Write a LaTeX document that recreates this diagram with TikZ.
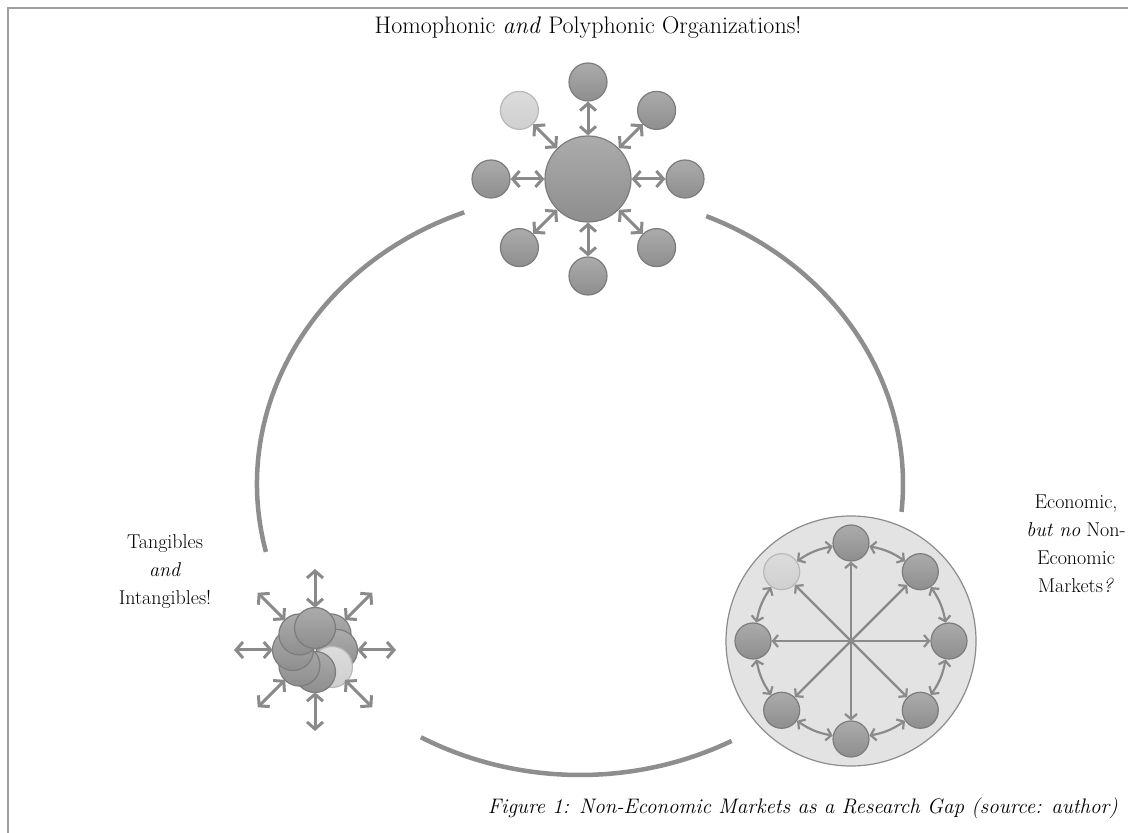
\documentclass[tikz,border=0pt]{standalone}
\usetikzlibrary{arrows.meta,calc}
\definecolor{ballhi}{HTML}{ABABAB}
\definecolor{balllo}{HTML}{8E8E8E}
\definecolor{balledge}{HTML}{7C7C7C}
\definecolor{lighthi}{HTML}{DCDCDC}
\definecolor{lightlo}{HTML}{CFCFCF}
\definecolor{lightedge}{HTML}{B8B8B8}
\definecolor{arrowgray}{HTML}{8A8A8A}
\definecolor{arcgray}{HTML}{8E8E8E}
\definecolor{discfill}{HTML}{E3E3E3}
\definecolor{discedge}{HTML}{8C8C8C}
\definecolor{framegray}{HTML}{A0A0A0}
\tikzset{
  ball/.style={circle,draw=balledge,line width=1.2pt,top color=ballhi,bottom color=balllo,inner sep=0pt,minimum size=#1},
  lightball/.style={circle,draw=lightedge,line width=1.2pt,top color=lighthi,bottom color=lightlo,inner sep=0pt,minimum size=#1},
  link/.style={draw=arrowgray,line width=3pt,{Straight Barb[length=7pt,width=16pt]}-{Straight Barb[length=7pt,width=16pt]}},
  thinlink/.style={draw=arrowgray,line width=2.2pt,{Straight Barb[length=5pt,width=12pt]}-{Straight Barb[length=5pt,width=12pt]}},
  spoke/.style={draw=arrowgray,line width=2.2pt,-{Straight Barb[length=5pt,width=12pt]}},
  arcline/.style={draw=arcgray,line width=4.5pt},
  txt/.style={font=\fontsize{20}{28}\selectfont,inner sep=0pt,align=center}
}
\begin{document}
\begin{tikzpicture}[x=1pt,y=1pt]
\useasboundingbox (0,0) rectangle (1128,833);
\fill[white] (0,0) rectangle (1128,833);
% frame
\draw[framegray,line width=2.5pt] (8,0) -- (8,825) -- (1128,825);

% big ellipse arcs
\coordinate (ec) at (580,349);
\draw[arcline] ($(ec)+(111:323pt and 291pt)$) arc[start angle=111,end angle=193.5,x radius=323pt,y radius=291pt];
\draw[arcline] ($(ec)+(240.5:323pt and 291pt)$) arc[start angle=240.5,end angle=298,x radius=323pt,y radius=291pt];
\draw[arcline] ($(ec)+(67:323pt and 291pt)$) arc[start angle=67,end angle=-5.5,x radius=323pt,y radius=291pt];

% top cluster
\node[ball=86pt] (hub) at (588,654) {};
\foreach \a/\n in {90/n,45/ne,0/e,-45/se,-90/s,-135/sw,180/w}
  \node[ball=38pt] (t\n) at ($(hub.center)+(\a:97pt)$) {};
\node[lightball=38pt] (tnw) at ($(hub.center)+(135:97pt)$) {};
\foreach \n in {n,ne,e,se,s,sw,w,nw}
  \draw[link] (hub) -- (t\n);

% right cluster
\node[circle,draw=discedge,line width=1.2pt,fill=discfill,minimum size=250pt,inner sep=0pt] (rdisc) at (851,192) {};
\coordinate (rc) at (851,192);
\foreach \a/\n in {90/n,45/ne,0/e,-45/se,-90/s,-135/sw,180/w}
  \node[ball=36pt] (r\n) at ($(rc)+(\a:98pt)$) {};
\node[lightball=36pt] (rnw) at ($(rc)+(135:98pt)$) {};
\foreach \n in {n,ne,e,se,s,sw,w,nw}
  \draw[spoke] (rc) -- (r\n);
\foreach \p/\q in {n/ne,ne/e,e/se,se/s,s/sw,sw/w,w/nw,nw/n}
  \draw[thinlink] (r\p) to[bend left=12] (r\q);

% left cluster
\coordinate (lc) at (315,183);
\foreach \a in {45,0}
  \node[ball=41pt] (lb\a) at ($(lc)+(\a:22pt)$) {};
\node[lightball=41pt] (lb315) at ($(lc)+(-45:24pt)$) {};
\foreach \a in {270,225,180,135,90}
  \node[ball=41pt] (lb\a) at ($(lc)+(\a:22pt)$) {};
\node[circle,minimum size=84pt,inner sep=0pt] (lcb) at (lc) {};
\foreach \a in {0,45,90,135,180,225,270,315}{
  \coordinate (lo\a) at ($(lc)+(\a:81pt)$);
  \draw[link] (lcb.\a) -- (lo\a);
}

% texts
\node[txt,font=\fontsize{24}{28}\selectfont] (title) at (588,806) {Homophonic \textit{and} Polyphonic Organizations!};
\node[txt] (tang) at (165,261) {Tangibles\\\textit{and}\\Intangibles!};
\node[txt] (econ) at (1076,289) {Economic,\\\textit{but no} Non-\\Economic\\Markets\textit{?}};
\node[txt,anchor=east,font=\fontsize{21}{28}\selectfont\itshape] (cap) at (1118,25) {Figure 1: Non-Economic Markets as a Research Gap (source: author)};
\end{tikzpicture}
\end{document}
